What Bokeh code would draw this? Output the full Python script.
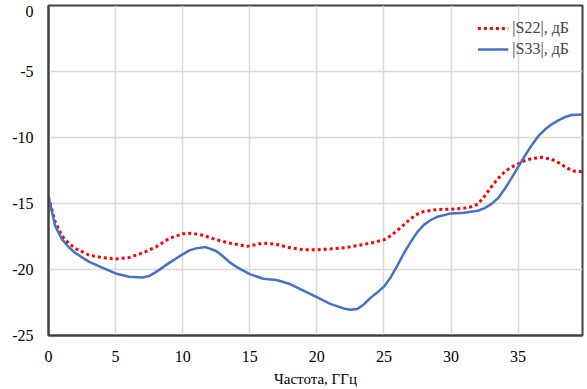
from bokeh.plotting import figure
from bokeh.models import Range1d, FixedTicker, Legend, LegendItem
from bokeh.embed import file_html
from bokeh.resources import INLINE

freq_s22 = [0, 0.5, 1, 1.5, 2, 3, 4, 5, 6, 7, 8, 9, 10, 10.7, 11.5, 12.5, 13.5, 14.8, 16, 17, 18, 19, 20,
            21, 22, 23, 24, 25, 25.5, 26, 26.5, 27, 27.5, 28, 29, 30, 31, 31.5, 32, 32.5, 33, 33.5,
            34, 34.5, 35, 35.5, 36, 36.75, 37.5, 38, 38.7, 39.2, 39.8]
s22_db = [-14.5, -16.4, -17.45, -18.0, -18.4, -18.9, -19.1, -19.2, -19.1, -18.75, -18.3, -17.65, -17.3,
          -17.25, -17.4, -17.75, -18.0, -18.25, -18.0, -18.1, -18.35, -18.5, -18.5,
          -18.45, -18.35, -18.2, -18.0, -17.75, -17.45, -17.05, -16.6, -16.15, -15.8, -15.6, -15.45,
          -15.43, -15.35, -15.25, -15.05, -14.45, -13.75, -13.1,
          -12.6, -12.25, -12.0, -11.75, -11.6, -11.5, -11.65, -11.9, -12.35, -12.55, -12.6]

freq_s33 = [0, 0.5, 1, 1.5, 2, 3, 4, 5, 6, 7, 7.5, 8, 9, 10, 10.5, 11, 11.7, 12.5, 13, 13.5, 14, 15,
            16, 17, 18, 19, 20, 21, 22, 22.5, 23, 23.5, 24, 24.5, 25, 25.5, 26, 26.5, 27, 27.5, 28,
            28.5, 29, 30, 31, 32, 32.5, 33, 33.5, 34, 34.5, 35, 35.5, 36, 36.5, 37, 37.5, 38, 38.5,
            39, 39.8]
s33_db = [-14.5, -16.7, -17.7, -18.3, -18.75, -19.4, -19.85, -20.3, -20.55, -20.6, -20.5, -20.2,
          -19.5, -18.85, -18.55, -18.4, -18.3, -18.6, -19.0, -19.45, -19.8, -20.35,
          -20.7, -20.8, -21.1, -21.6, -22.1, -22.6, -22.95, -23.05, -23.0, -22.65, -22.15, -21.75,
          -21.3, -20.6, -19.7, -18.75, -17.9, -17.15, -16.6,
          -16.25, -16.0, -15.75, -15.7, -15.55, -15.35, -15.05, -14.6, -13.9, -13.1, -12.25, -11.4,
          -10.6, -9.9, -9.4, -9.0, -8.7, -8.45, -8.3, -8.25]

x_ticks = [0, 5, 10, 15, 20, 25, 30, 35]
y_ticks = [0, -5, -10, -15, -20, -25]
y_tick_labels = ["0", "-5", "-10", "-15", "-20", "-25"]
x_label = "Частота, ГГц"
label_s22 = "|S22|, дБ"
label_s33 = "|S33|, дБ"

FONT = "Liberation Serif"

p = figure(width=587, height=389, output_backend="svg", toolbar_location=None,
           x_range=Range1d(0, 39.8), y_range=Range1d(-25, 0),
           min_border_left=48, min_border_right=5, min_border_top=5, min_border_bottom=51)

p.background_fill_color = "white"
p.border_fill_color = "white"
p.outline_line_color = "#404040"
p.outline_line_width = 2

for ax in (p.xaxis[0], p.yaxis[0]):
    ax.axis_line_color = "#404040"
    ax.axis_line_width = 2
    ax.major_tick_line_color = None
    ax.minor_tick_line_color = None
    ax.major_label_text_font = FONT
    ax.major_label_text_font_size = "16px"
    ax.major_label_text_color = "black"

p.xaxis.ticker = FixedTicker(ticks=x_ticks)
p.xgrid.ticker = FixedTicker(ticks=x_ticks)
p.ygrid.ticker = FixedTicker(ticks=y_ticks)

# The y-axis labels are placed on a label range shifted by a few pixels so that the
# top label "0" sits just under the top edge (as in the reference); the other
# labels are placed at their true positions.
shift = 0.49
p.extra_y_ranges = {"labels": Range1d(y_ticks[-1] + shift, y_ticks[0] + shift)}
p.yaxis.y_range_name = "labels"
label_ticks = [y_ticks[0]] + [t + shift for t in y_ticks[1:]]
p.yaxis.ticker = FixedTicker(ticks=label_ticks)
p.yaxis.major_label_overrides = {t: s for t, s in zip(label_ticks, y_tick_labels)}

p.xaxis.major_label_standoff = 9
p.yaxis.major_label_standoff = 9
p.xaxis.axis_label = x_label
p.xaxis.axis_label_text_font = FONT
p.xaxis.axis_label_text_font_size = "15px"
p.xaxis.axis_label_text_font_style = "normal"
p.xaxis.axis_label_text_color = "black"
p.xaxis.axis_label_standoff = 6

p.grid.grid_line_color = "#d9d9d9"
p.grid.grid_line_width = 1.5

r22 = p.line(freq_s22, s22_db, line_color="#ff0000", line_width=3, line_dash="3 3")
r33 = p.line(freq_s33, s33_db, line_color="#4472c4", line_width=2.5)

legend = Legend(items=[LegendItem(label=label_s22, renderers=[r22]),
                       LegendItem(label=label_s33, renderers=[r33])],
                location="top_right")
legend.border_line_color = None
legend.background_fill_alpha = 0
legend.label_text_font = FONT
legend.label_text_font_size = "16px"
legend.glyph_width = 31
legend.label_standoff = 4
legend.spacing = 1
legend.padding = 9
legend.margin = 13
p.add_layout(legend)

open("out.html", "w").write(file_html(p, INLINE))
